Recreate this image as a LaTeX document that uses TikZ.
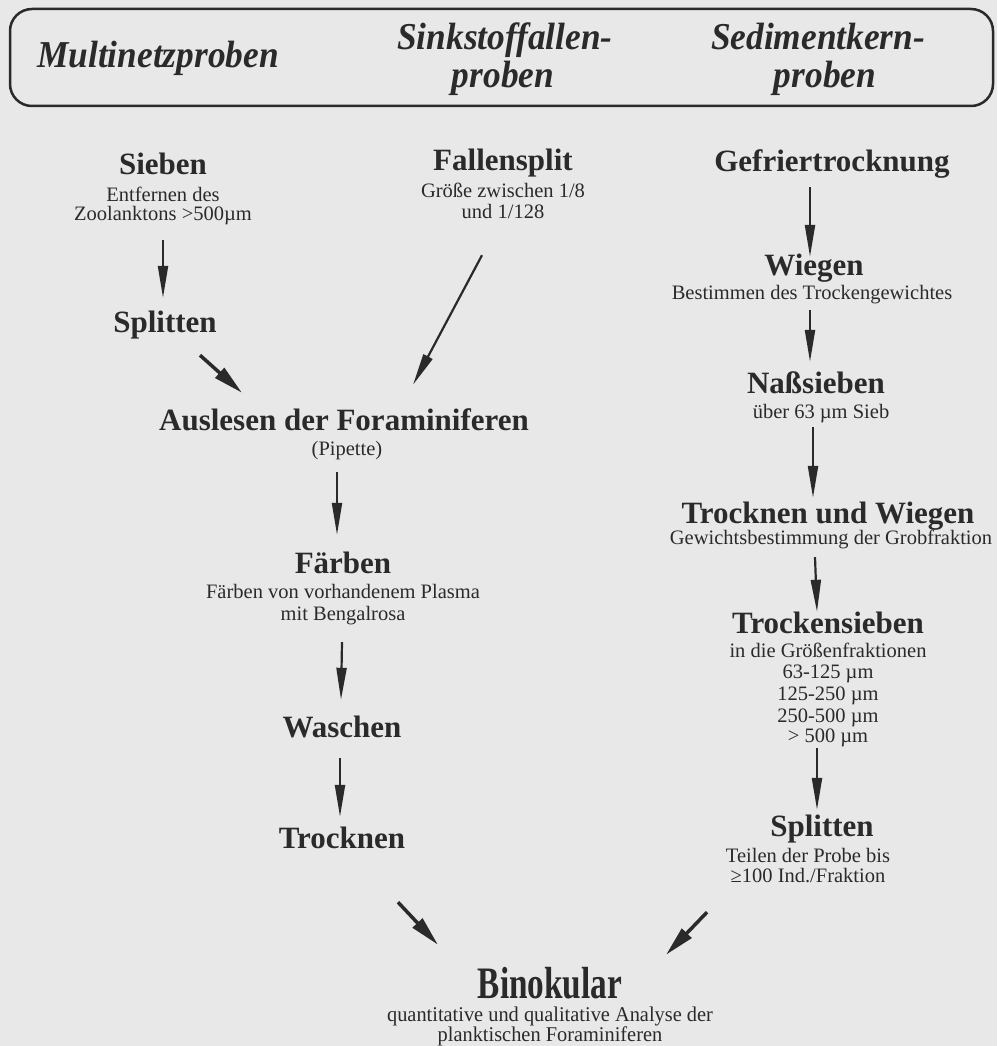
\documentclass[tikz,border=0pt]{standalone}
\usepackage{fontspec}
\setmainfont{Liberation Serif}
\newfontfamily\hdrfont{Liberation Serif}[FakeStretch=0.93]
\newfontfamily\condfont{Liberation Serif}[FakeStretch=0.74]
\newfontfamily\condsubfont{Liberation Serif}[FakeStretch=0.97]
\usetikzlibrary{arrows.meta}
\definecolor{ink}{HTML}{2A2A2A}
\definecolor{paper}{HTML}{E8E8E8}
\tikzset{
  ttl/.style={inner sep=0pt, anchor=base, text=ink, font=\fontsize{31}{31}\selectfont\bfseries, text height=21pt, text depth=7pt},
  sub/.style={inner sep=0pt, anchor=base, text=ink, font=\fontsize{20.5}{20.5}\selectfont, text height=14pt, text depth=5pt},
  hdr/.style={inner sep=0pt, anchor=base, text=ink, font=\hdrfont\fontsize{38}{38}\selectfont\bfseries\itshape},
  bino/.style={inner sep=0pt, anchor=base, text=ink, font=\condfont\fontsize{45}{45}\selectfont\bfseries, text height=30pt, text depth=8pt},
  binosub/.style={inner sep=0pt, anchor=base, text=ink, font=\condsubfont\fontsize{21}{21}\selectfont, text height=13pt, text depth=4pt},
  varr/.style={draw=ink, line width=2.2pt, -{Triangle[length=32pt,width=10pt]}},
  darr/.style={draw=ink, line width=3.5pt, -{Triangle[length=30pt,width=13pt]}},
  hdrbox/.style={draw=ink, line width=2.5pt, rounded corners=22pt, inner sep=0pt},
}
\begin{document}
\begin{tikzpicture}[x=1pt,y=-1pt]
\fill[paper] (0,0) rectangle (997,1046);
\useasboundingbox (0,0) rectangle (997,1046);

% header
\node[hdrbox, minimum width=983pt, minimum height=97pt] (head) at (501.5,57.5) {};
\node[hdr] (h1) at (158,68) {Multinetzproben};
\node[hdr] (h2a) at (505,50) {Sinkstoffallen-};
\node[hdr] (h2b) at (503,88) {proben};
\node[hdr] (h3a) at (818,50) {Sedimentkern-};
\node[hdr] (h3b) at (825,88) {proben};

% left column
\node[ttl] (sieben) at (163,174) {Sieben};
\node[sub] (sieben1) at (163,201) {Entfernen des};
\node[sub] (sieben2) at (163,220) {Zoolanktons >500µm};
\node[ttl] (splitL) at (165,332) {Splitten};

\node[ttl] (fall) at (503,170) {Fallensplit};
\node[sub] (fall1) at (503,197) {Größe zwischen 1/8};
\node[sub] (fall2) at (503,218) {und 1/128};

\node[ttl] (ausl) at (344,430) {Auslesen der Foraminiferen};
\node[sub] (pip) at (347,455) {(Pipette)};

\node[ttl] (faerb) at (343,573) {Färben};
\node[sub] (faerb1) at (343,598) {Färben von vorhandenem Plasma};
\node[sub] (faerb2) at (343,620) {mit Bengalrosa};

\node[ttl] (wasch) at (342,737) {Waschen};
\node[ttl] (trock) at (342,848) {Trocknen};

% right column
\node[ttl] (gefr) at (832,171) {Gefriertrocknung};
\node[ttl] (wieg) at (814,275) {Wiegen};
\node[sub] (wieg1) at (812,299) {Bestimmen des Trockengewichtes};
\node[ttl] (nass) at (816,393) {Naßsieben};
\node[sub] (nass1) at (821,418) {über 63 µm Sieb};
\node[ttl] (tuw) at (828,523) {Trocknen und Wiegen};
\node[sub] (tuw1) at (831,544) {Gewichtsbestimmung der Grobfraktion};
\node[ttl] (trs) at (828,633) {Trockensieben};
\node[sub] (trs1) at (828,657) {in die Größenfraktionen};
\node[sub] (trs2) at (828,678) {63-125 µm};
\node[sub] (trs3) at (828,700) {125-250 µm};
\node[sub] (trs4) at (828,722) {250-500 µm};
\node[sub] (trs5) at (828,742) {> 500 µm};
\node[ttl] (splitR) at (822,836) {Splitten};
\node[sub] (splitR1) at (808,862) {Teilen der Probe bis};
\node[sub] (splitR2) at (808,882) {≥100 Ind./Fraktion};

% bottom
\node[bino] (bin) at (550,998) {Binokular};
\node[binosub] (bin1) at (550,1021) {quantitative und qualitative Analyse der};
\node[binosub] (bin2) at (550,1041) {planktischen Foraminiferen};

% arrows left
\draw[varr] ([yshift=-15pt]sieben2.south) -- ([xshift=-2pt,yshift=13pt]splitL.north);
\draw[darr] ([xshift=35pt,yshift=-16pt]splitL.south) -- ([xshift=-102pt,yshift=16pt]ausl.north);
\draw[varr] ([xshift=-21pt,yshift=-32pt]fall2.south) -- ([xshift=69pt,yshift=24pt]ausl.north);
\draw[varr] ([xshift=-10pt,yshift=-12pt]pip.south) -- ([xshift=-6pt,yshift=17pt]faerb.north);
\draw[varr] ([xshift=-1pt,yshift=-17pt]faerb2.south) -- ([xshift=-1pt,yshift=16pt]wasch.north);
\draw[varr] ([xshift=-2pt,yshift=-14pt]wasch.south) -- ([xshift=-2pt,yshift=10pt]trock.north);
\draw[darr] ([xshift=56pt,yshift=-47pt]trock.south) -- ([xshift=-112pt,yshift=23pt]bin.north);

% arrows right
\draw[varr] ([xshift=-22pt,yshift=-9pt]gefr.south) -- ([xshift=-4pt,yshift=-3pt]wieg.north);
\draw[varr] ([xshift=-2pt,yshift=-6pt]wieg1.south) -- ([xshift=-6pt,yshift=10pt]nass.north);
\draw[varr] ([xshift=-8pt,yshift=-4pt]nass1.south) -- ([xshift=-15pt,yshift=4pt]tuw.north);
\draw[varr] ([xshift=-16pt,yshift=-8pt]tuw1.south) -- ([xshift=-11pt,yshift=0pt]trs.north);
\draw[varr] ([xshift=-11pt,yshift=-1pt]trs5.south) -- ([xshift=-5pt,yshift=5pt]splitR.north);
\draw[darr] ([xshift=-101pt,yshift=-25pt]splitR2.south) -- ([xshift=116pt,yshift=13pt]bin.north);
\end{tikzpicture}
\end{document}
